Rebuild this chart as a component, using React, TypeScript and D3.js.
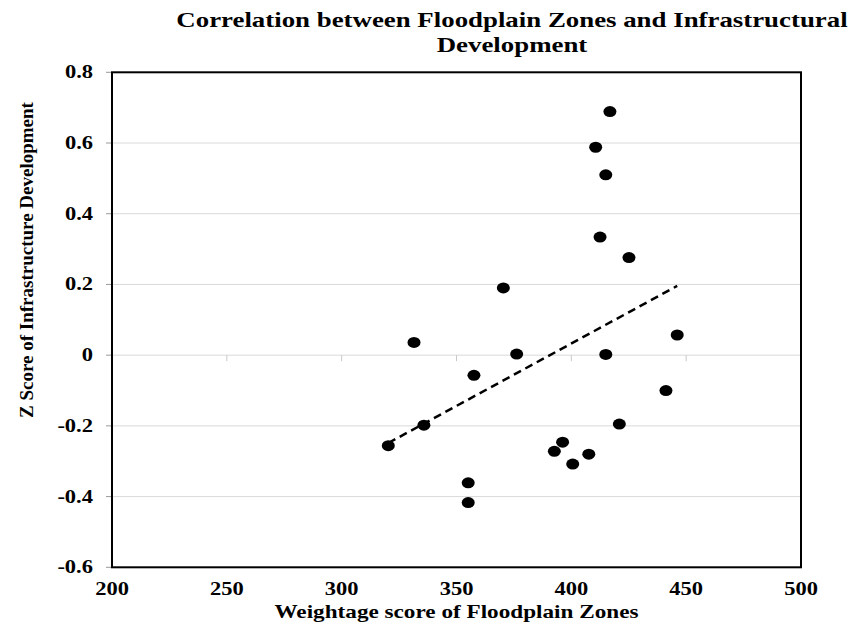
import React, { useEffect, useRef } from 'react'
import * as d3 from 'd3'

// weightage score of floodplain zones
const weightage = [416.8, 410.6, 415.0, 412.5, 425.1, 370.4, 331.5, 376.2, 415.0, 446.1, 357.6,
  441.2, 335.8, 320.3, 420.9, 396.2, 392.6, 407.6, 400.6, 355.1, 355.1]
// z score of infrastructure development
const zScore = [0.689, 0.588, 0.510, 0.334, 0.276, 0.190, 0.036, 0.003, 0.002, 0.057, -0.057,
  -0.100, -0.198, -0.256, -0.195, -0.246, -0.272, -0.280, -0.308, -0.361, -0.417]

const xTicks = [200, 250, 300, 350, 400, 450, 500]
const yTicks = [-0.6, -0.4, -0.2, 0, 0.2, 0.4, 0.6, 0.8]

const titleLines = ['Correlation between Floodplain Zones and Infrastructural', 'Development']
const xTitle = 'Weightage score of Floodplain Zones'
const yTitle = 'Z Score of Infrastructure Development'

const W = 863
const H = 629
const FONT = '"Liberation Serif", "Times New Roman", serif'

// the source picture is wider than it is tall, so text gets stretched sideways
const stretch = (sel: any, k: number) => {
  sel.each(function (this: SVGTextElement) {
    const len = this.getComputedTextLength()
    d3.select(this).attr('textLength', len * k).attr('lengthAdjust', 'spacingAndGlyphs')
  })
}

const App = () => {
  const ref = useRef<SVGSVGElement>(null)

  useEffect(() => {
    const svg = d3.select(ref.current)
    svg.selectAll('*').remove()

    const left = 112, right = 801, top = 72.3, bottom = 567.3

    const x = d3.scaleLinear().domain([200, 500]).range([left, right])
    const y = d3.scaleLinear().domain([-0.6, 0.8]).range([bottom, top])

    // gridlines
    svg.append('g')
      .selectAll('line')
      .data(yTicks.filter(d => d !== -0.6 && d !== 0.8))
      .join('line')
      .attr('x1', left).attr('x2', right)
      .attr('y1', d => y(d)).attr('y2', d => y(d))
      .attr('stroke', '#d9d9d9')
      .attr('stroke-width', 1)

    // x axis crosses at zero: little tick marks below the zero line
    svg.append('g')
      .selectAll('line')
      .data(xTicks.slice(1, -1))
      .join('line')
      .attr('x1', d => x(d)).attr('x2', d => x(d))
      .attr('y1', y(0)).attr('y2', y(0) + 6)
      .attr('stroke', '#c8c8c8')

    // y tick marks
    svg.append('g')
      .selectAll('line')
      .data(yTicks)
      .join('line')
      .attr('x1', left - 6).attr('x2', left)
      .attr('y1', d => y(d)).attr('y2', d => y(d))
      .attr('stroke', '#999')

    // plot border
    svg.append('rect')
      .attr('x', left).attr('y', top)
      .attr('width', right - left).attr('height', bottom - top)
      .attr('fill', 'none')
      .attr('stroke', '#000')
      .attr('stroke-width', 2)

    // y tick labels (plain hyphen minus, like the source)
    svg.append('g')
      .attr('font-family', FONT)
      .attr('font-weight', 'bold')
      .attr('font-size', 18)
      .attr('text-anchor', 'end')
      .selectAll('text')
      .data(yTicks)
      .join('text')
      .attr('x', 93)
      .attr('y', d => y(d))
      .attr('dy', '0.33em')
      .text(d => String(+d.toFixed(1)))
      .call(stretch, 1.25)

    // x tick labels
    svg.append('g')
      .attr('font-family', FONT)
      .attr('font-weight', 'bold')
      .attr('font-size', 18)
      .attr('text-anchor', 'middle')
      .selectAll('text')
      .data(xTicks)
      .join('text')
      .attr('x', d => x(d))
      .attr('y', 595)
      .text(d => d)
      .call(stretch, 1.25)

    // regression line over the data range
    const mx = d3.mean(weightage)!
    const my = d3.mean(zScore)!
    const sxy = d3.sum(weightage, (v, i) => (v - mx) * (zScore[i] - my))
    const sxx = d3.sum(weightage, v => (v - mx) ** 2)
    const slope = sxy / sxx
    const icpt = my - slope * mx
    const [x0, x1] = d3.extent(weightage) as [number, number]

    svg.append('line')
      .attr('x1', x(x0)).attr('y1', y(icpt + slope * x0))
      .attr('x2', x(x1)).attr('y2', y(icpt + slope * x1))
      .attr('stroke', '#000')
      .attr('stroke-width', 2.5)
      .attr('stroke-dasharray', '8,5')

    // points
    svg.append('g')
      .selectAll('ellipse')
      .data(weightage)
      .join('ellipse')
      .attr('cx', d => x(d))
      .attr('cy', (d, i) => y(zScore[i]))
      .attr('rx', 6.5)
      .attr('ry', 5.5)
      .attr('fill', '#000')

    // title
    svg.append('g')
      .attr('font-family', FONT)
      .attr('font-weight', 'bold')
      .attr('font-size', 22)
      .attr('text-anchor', 'middle')
      .selectAll('text')
      .data(titleLines)
      .join('text')
      .attr('x', 512)
      .attr('y', (d, i) => 27 + i * 25)
      .text(d => d)
      .call(stretch, 1.22)

    // axis titles
    svg.append('text')
      .attr('x', (left + right) / 2)
      .attr('y', 618)
      .attr('text-anchor', 'middle')
      .attr('font-family', FONT)
      .attr('font-weight', 'bold')
      .attr('font-size', 19)
      .text(xTitle)
      .call(stretch, 1.22)

    svg.append('text')
      .attr('transform', `translate(33,260) rotate(-90)`)
      .attr('text-anchor', 'middle')
      .attr('font-family', FONT)
      .attr('font-weight', 'bold')
      .attr('font-size', 19)
      .text(yTitle)
  }, [])

  return (
    <svg ref={ref} width={W} height={H}
      style={{ position: 'absolute', left: 0, top: 0, background: '#fff' }} />
  )
}

export default App
